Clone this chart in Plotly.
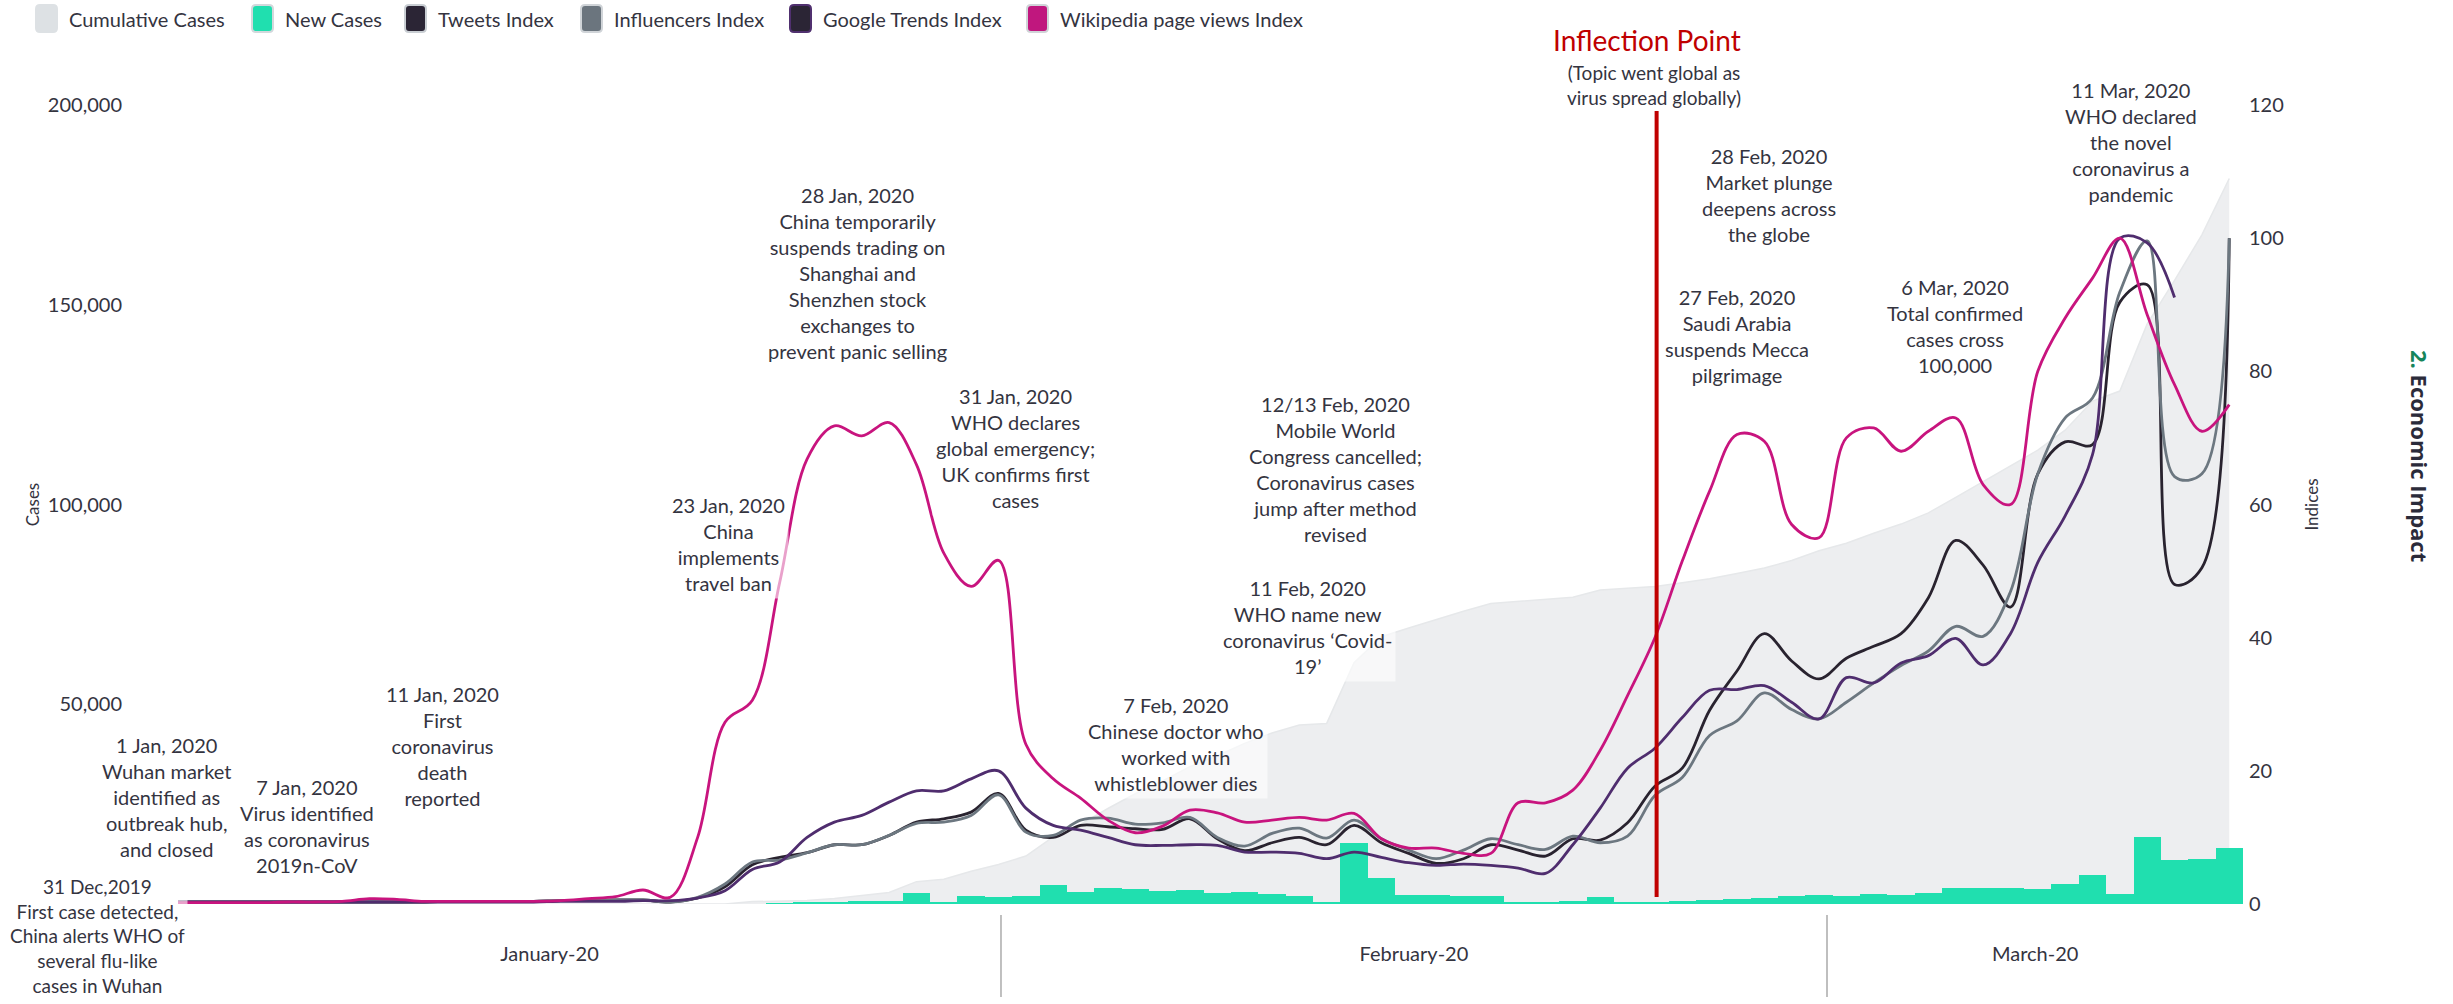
import pandas as pd
import plotly.graph_objects as go

# ---------------- data ----------------
dates = pd.date_range("2020-01-01", "2020-03-16", freq="D")

cumulative_cases = [
    0, 0, 0, 0, 0, 0, 0, 0, 0, 0,
    0, 0, 0, 0, 0, 0, 0, 0, 0, 0,
    0, 600, 700, 900, 1400, 2100, 2900, 5600, 6200, 8200,
    9900, 12000, 16800, 19900, 23900, 27600, 30800, 34400, 37100, 40200,
    42800, 44800, 45200, 60400, 66900, 69100, 71200, 73300, 75200, 75700,
    76200, 76800, 78600, 79000, 79500, 80400, 81400, 82700, 84100, 86000,
    88400, 90300, 92800, 95100, 97900, 101800, 105800, 109800, 113600, 118600,
    125900, 128400, 145200, 156100, 167500, 181600,
]

new_cases = [
    0, 0, 0, 0, 0, 0, 0, 0, 0, 0,
    0, 0, 0, 0, 0, 0, 0, 0, 0, 0,
    0, 0, 100, 290, 490, 680, 810, 2650, 590, 2070,
    1690, 2110, 4750, 3100, 4010, 3750, 3160, 3590, 2730, 3030,
    2610, 2040, 420, 15150, 6530, 2150, 2180, 2040, 1880, 500,
    560, 630, 1760, 380, 560, 850, 980, 1360, 1380, 1890,
    2360, 1940, 2540, 2280, 2760, 3920, 4050, 3970, 3770, 5030,
    7260, 2480, 16850, 10900, 11350, 14120,
]

tweets_index = [
    0.3, 0.3, 0.3, 0.3, 0.3, 0.3, 0.3, 0.3, 0.3, 0.3,
    0.4, 0.4, 0.4, 0.4, 0.5, 0.5, 0.6, 0.6, 0.3, 0.9,
    2.6, 5.9, 7.0, 7.7, 8.9, 8.9, 10.3, 12.3, 12.8, 13.8,
    16.6, 11.1, 10.0, 11.8, 11.6, 11.3, 11.2, 12.8, 9.8, 8.0,
    9.2, 10.0, 8.9, 11.8, 9.2, 7.6, 6.1, 6.8, 8.9, 8.1,
    7.2, 9.8, 9.6, 12.2, 17.7, 20.4, 29.1, 35.0, 40.6, 36.5,
    33.8, 36.9, 38.7, 40.6, 46.0, 54.6, 50.9, 44.6, 64.6, 69.4,
    69.0, 90.4, 93.0, 48.0, 50.5, 100.0,
]

influencers_index = [
    0.3, 0.3, 0.3, 0.3, 0.3, 0.3, 0.3, 0.3, 0.3, 0.3,
    0.4, 0.4, 0.4, 0.4, 0.5, 0.5, 0.6, 0.6, 0.3, 1.0,
    3.0, 6.3, 6.6, 7.7, 8.9, 8.9, 10.3, 12.1, 12.3, 13.3,
    16.4, 10.8, 10.3, 12.6, 12.9, 12.0, 12.2, 13.0, 10.0, 8.7,
    10.6, 11.4, 9.9, 12.6, 9.8, 8.1, 6.8, 8.1, 9.8, 8.9,
    8.2, 10.2, 9.2, 10.2, 16.3, 19.0, 25.3, 27.5, 31.7, 29.2,
    27.8, 30.3, 33.2, 35.8, 38.0, 41.7, 40.2, 46.9, 64.6, 73.0,
    76.0, 91.9, 99.6, 64.2, 64.6, 100.0,
]

google_trends_index = [
    0.3, 0.3, 0.3, 0.3, 0.3, 0.3, 0.3, 0.3, 0.3, 0.3,
    0.3, 0.3, 0.3, 0.3, 0.4, 0.4, 0.4, 0.5, 0.5, 0.9,
    2.0, 5.2, 6.3, 10.0, 12.3, 13.3, 15.3, 17.0, 17.0, 18.8,
    20.0, 14.4, 11.8, 11.1, 10.0, 8.9, 8.8, 8.9, 8.8, 7.8,
    7.8, 7.6, 6.8, 7.8, 7.0, 6.2, 5.8, 6.0, 5.8, 5.4,
    4.6, 8.9, 14.4, 20.4, 23.4, 28.0, 32.1, 32.2, 32.8, 30.3,
    27.8, 34.0, 33.2, 36.2, 37.3, 39.9, 35.9, 40.6, 51.3, 58.3,
    67.5, 100.0, 99.3, 91.1, None, None,
]

wikipedia_index = [
    0.2, 0.2, 0.2, 0.2, 0.3, 0.3, 0.4, 0.8, 0.7, 0.4,
    0.4, 0.4, 0.4, 0.4, 0.5, 0.8, 1.1, 2.1, 1.0, 10.0,
    27.3, 30.6, 48.3, 66.8, 71.8, 70.3, 72.3, 66.0, 52.7, 47.7,
    51.6, 24.0, 18.8, 15.9, 12.6, 10.7, 11.7, 14.1, 13.7, 12.3,
    12.6, 13.0, 12.6, 13.6, 9.8, 8.4, 8.4, 7.6, 7.6, 15.2,
    15.2, 17.1, 23.1, 31.3, 40.0, 51.5, 62.0, 70.5, 69.5, 57.0,
    55.0, 70.0, 71.5, 68.0, 71.0, 73.0, 63.0, 60.0, 80.0, 88.0,
    94.0, 100.0, 88.5, 78.0, 71.0, 75.0,
]

month_labels = ["January-20", "February-20", "March-20"]
month_label_dates = ["2020-01-14 14:00", "2020-02-15 04:30", "2020-03-08 21:40"]
month_separators = ["2020-01-31 02:10", "2020-03-01 07:00"]
inflection_date = "2020-02-24 01:30"

cases_ticks = [50000, 100000, 150000, 200000]
index_ticks = [0, 20, 40, 60, 80, 100, 120]

events = [
    ("1 Jan, 2020<br>Wuhan market<br>identified as<br>outbreak hub,<br>and closed", 166, 797),
    ("7 Jan, 2020<br>Virus identified<br>as coronavirus<br>2019n-CoV", 307, 826),
    ("11 Jan, 2020<br>First<br>coronavirus<br>death<br>reported", 442, 746),
    ("23 Jan, 2020<br>China<br>implements<br>travel ban", 728, 544),
    ("28 Jan, 2020<br>China temporarily<br>suspends trading on<br>Shanghai and<br>Shenzhen stock<br>exchanges to<br>prevent panic selling", 857, 273),
    ("31 Jan, 2020<br>WHO declares<br>global emergency;<br>UK confirms first<br>cases", 1015, 448),
    ("7 Feb, 2020<br>Chinese doctor who<br>worked with<br>whistleblower dies", 1176, 744),
    ("11 Feb, 2020<br>WHO name new<br>coronavirus \u2018Covid-<br>19\u2019", 1307, 627),
    ("12/13 Feb, 2020<br>Mobile World<br>Congress cancelled;<br>Coronavirus cases<br>jump after method<br>revised", 1335, 469),
    ("28 Feb, 2020<br>Market plunge<br>deepens across<br>the globe", 1769, 195),
    ("27 Feb, 2020<br>Saudi Arabia<br>suspends Mecca<br>pilgrimage", 1737, 336),
    ("6 Mar, 2020<br>Total confirmed<br>cases cross<br>100,000", 1955, 326),
    ("11 Mar, 2020<br>WHO declared<br>the novel<br>coronavirus a<br>pandemic", 2131, 142),
]
first_event = ("31 Dec,2019<br>First case detected,<br>China alerts WHO of<br>several flu-like<br>cases in Wuhan", 97, 936)

legend_items = [
    ("Cumulative Cases", "#DDE1E4", "#DDE1E4"),
    ("New Cases", "#20DFAF", "#D3D8DC"),
    ("Tweets Index", "#2B2535", "#C9CED3"),
    ("Influencers Index", "#6B757E", "#D0D4D8"),
    ("Google Trends Index", "#2B2535", "#50306F"),
    ("Wikipedia page views Index", "#C0177E", "#D0D4D8"),
]
legend_x = [36, 252, 405, 581, 790, 1027]

# ---------------- geometry ----------------
W, H = 2453, 1004
PL, PR, PT, PB = 130, 2248, 105, 904
DAY_PX = 27.35
X0_PX = 178  # pixel of first date
FONT = "Lato"
TXT = "#34343F"


def xp(px):
    return (px - PL) / (PR - PL)


def yp(py):
    return (PB - py) / (PB - PT)


start = pd.Timestamp("2020-01-01")
x_range = [start + pd.Timedelta(days=(PL - X0_PX) / DAY_PX),
           start + pd.Timedelta(days=(PR - X0_PX) / DAY_PX)]

fig = go.Figure()

fig.add_trace(go.Scatter(
    x=dates, y=cumulative_cases, name="Cumulative Cases", mode="lines",
    fill="tozeroy", fillcolor="#EDEEF0", line=dict(color="#E6E8EA", width=1.5),
    yaxis="y", showlegend=False, hoverinfo="skip"))

fig.add_trace(go.Bar(
    x=dates, y=new_cases, name="New Cases", marker=dict(color="#20DFAF", line=dict(width=0)),
    width=86400000, yaxis="y2", showlegend=False))

line_series = [
    ("Tweets Index", tweets_index, "#29232F"),
    ("Influencers Index", influencers_index, "#6C7780"),
    ("Google Trends Index", google_trends_index, "#4F2D6E"),
    ("Wikipedia page views Index", wikipedia_index, "#C8147E"),
]
for name, vals, col in line_series:
    fig.add_trace(go.Scatter(
        x=dates, y=vals, name=name, mode="lines",
        line=dict(color=col, width=2.8, shape="spline", smoothing=1.0),
        connectgaps=False, yaxis="y3", showlegend=False))

shapes = []
for sx in month_separators:
    shapes.append(dict(type="line", xref="x", yref="paper", x0=sx, x1=sx,
                       y0=yp(915), y1=yp(997), line=dict(color="#BFBFBF", width=2)))
shapes.append(dict(type="line", xref="x", yref="paper", x0=inflection_date, x1=inflection_date,
                   y0=yp(897), y1=yp(111), line=dict(color="#C00000", width=4), layer="above"))

annotations = []
for text, cx, cy in events:
    annotations.append(dict(
        text=text, x=xp(cx), y=yp(cy), xref="paper", yref="paper",
        xanchor="center", yanchor="middle", showarrow=False, align="center",
        font=dict(family=FONT, size=20, color=TXT),
        bgcolor="rgba(255,255,255,0.6)", borderpad=3))

annotations.append(dict(
    text=first_event[0], x=xp(first_event[1]), y=yp(first_event[2]),
    xref="paper", yref="paper", xanchor="center", yanchor="middle",
    showarrow=False, align="center",
    font=dict(family=FONT, size=19, color=TXT),
    bgcolor="rgba(255,255,255,0.6)", borderpad=2))

annotations.append(dict(
    text="Inflection Point", x=xp(1647), y=yp(40), xref="paper", yref="paper",
    xanchor="center", yanchor="middle", showarrow=False,
    font=dict(family=FONT, size=28, color="#C00000")))
annotations.append(dict(
    text="(Topic went global as<br>virus spread globally)", x=xp(1654), y=yp(85),
    xref="paper", yref="paper", xanchor="center", yanchor="middle", showarrow=False,
    font=dict(family=FONT, size=19, color=TXT)))
annotations.append(dict(
    text="<b><span style='color:#16855B'>2.</span> Economic Impact</b>",
    x=xp(2420), y=yp(456), xref="paper", yref="paper", textangle=90,
    xanchor="center", yanchor="middle", showarrow=False,
    font=dict(family="Open Sans", size=22, color="#2B2B3A")))


# manual legend (rounded swatches like the reference)
def rounded_rect(x0, y0, x1, y1, r):
    rx = r / (PR - PL)
    ry = r / (PB - PT)
    X0, X1 = xp(x0), xp(x1)
    Y0, Y1 = yp(y1), yp(y0)  # Y0 bottom, Y1 top
    return (f"M{X0+rx},{Y0} L{X1-rx},{Y0} Q{X1},{Y0} {X1},{Y0+ry} "
            f"L{X1},{Y1-ry} Q{X1},{Y1} {X1-rx},{Y1} L{X0+rx},{Y1} "
            f"Q{X0},{Y1} {X0},{Y1-ry} L{X0},{Y0+ry} Q{X0},{Y0} {X0+rx},{Y0} Z")


for (label, fillc, edgec), lx in zip(legend_items, legend_x):
    shapes.append(dict(type="path", xref="paper", yref="paper",
                       path=rounded_rect(lx, 5, lx + 21, 32, 4),
                       fillcolor=fillc, line=dict(color=edgec, width=2)))
    annotations.append(dict(
        text=label, x=xp(lx + 31), y=yp(19), xref="paper", yref="paper",
        xanchor="left", yanchor="middle", showarrow=False,
        font=dict(family=FONT, size=20, color=TXT)))

fig.update_layout(
    width=W, height=H,
    margin=dict(l=PL, r=W - PR, t=PT, b=H - PB, autoexpand=False),
    plot_bgcolor="white", paper_bgcolor="white",
    font=dict(family=FONT, size=19, color=TXT),
    showlegend=False, bargap=0,
    shapes=shapes, annotations=annotations,
    xaxis=dict(type="date", range=x_range, tickvals=month_label_dates,
               ticktext=month_labels, ticks="", showgrid=False, zeroline=False,
               showline=False, automargin=False,
               tickfont=dict(size=20, color=TXT), ticklabelstandoff=36),
    yaxis=dict(range=[0, 200000], tickvals=cases_ticks,
               ticktext=[f"{v:,}" for v in cases_ticks], showgrid=False,
               zeroline=False, showline=False, ticks="", ticklabelstandoff=7,
               automargin=False, tickfont=dict(size=20, color=TXT),
               title=dict(text="Cases", font=dict(size=17, color=TXT), standoff=3)),
    yaxis2=dict(range=[0, 200000], overlaying="y", visible=False, showgrid=False,
                zeroline=False, automargin=False),
    yaxis3=dict(range=[0, 120], tickvals=index_ticks, overlaying="y", side="right",
                showgrid=False, zeroline=False, showline=False, ticks="",
                automargin=False, tickfont=dict(size=20, color=TXT),
                title=dict(text="Indices", font=dict(size=17, color=TXT), standoff=23)),
)

fig.write_html(
    "out.html",
    config={"displayModeBar": False},
    post_script="document.body.style.margin='0px';document.body.style.overflow='hidden';",
)
